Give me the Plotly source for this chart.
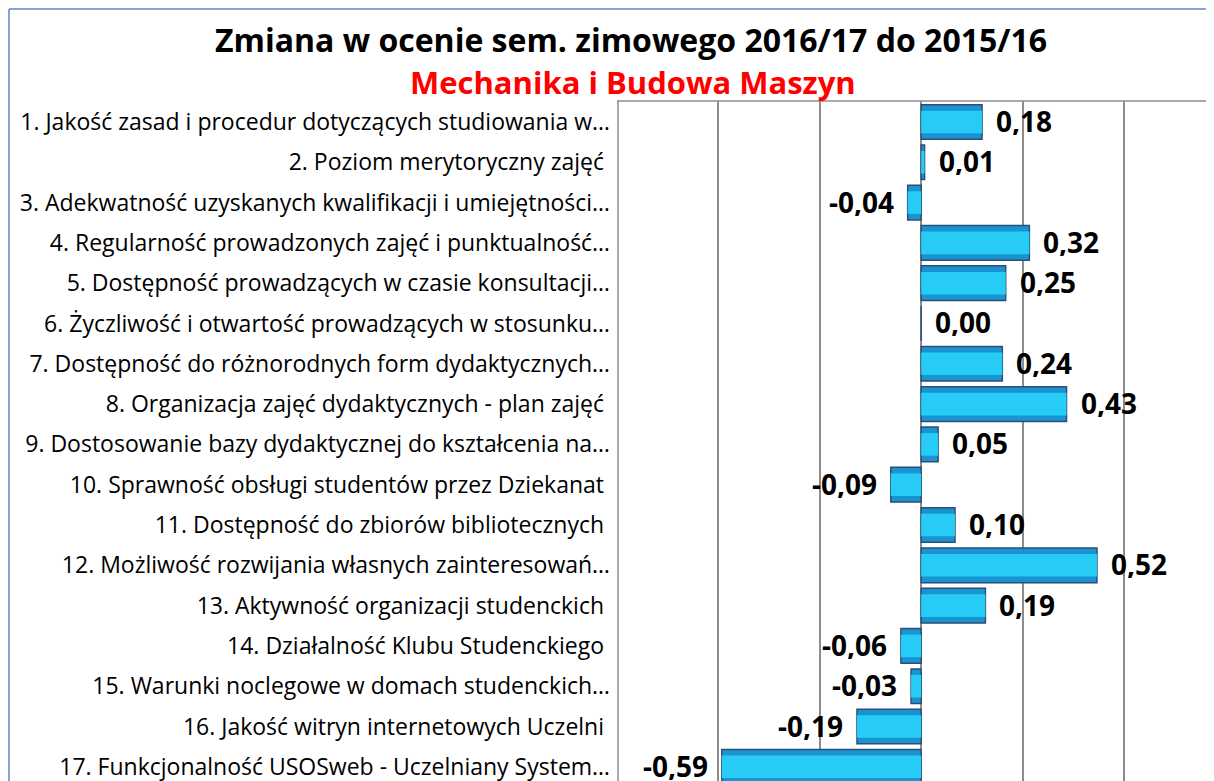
import plotly.graph_objects as go

categories = [
    "1. Jakość zasad i procedur dotyczących studiowania w…",
    "2. Poziom merytoryczny zajęć\u00a0",
    "3. Adekwatność uzyskanych kwalifikacji i umiejętności…",
    "4. Regularność prowadzonych zajęć i punktualność…",
    "5. Dostępność prowadzących w czasie konsultacji…",
    "6. Życzliwość i otwartość prowadzących w stosunku…",
    "7. Dostępność do różnorodnych form dydaktycznych…",
    "8. Organizacja zajęć dydaktycznych - plan zajęć\u00a0",
    "9. Dostosowanie bazy dydaktycznej do kształcenia na…",
    "10. Sprawność obsługi studentów przez Dziekanat\u00a0",
    "11. Dostępność do zbiorów bibliotecznych\u00a0",
    "12. Możliwość rozwijania własnych zainteresowań…",
    "13. Aktywność organizacji studenckich\u00a0",
    "14. Działalność Klubu Studenckiego\u00a0",
    "15. Warunki noclegowe w domach studenckich…",
    "16. Jakość witryn internetowych Uczelni\u00a0",
    "17. Funkcjonalność USOSweb - Uczelniany System…",
]
values = [0.18, 0.01, -0.04, 0.32, 0.25, 0.00, 0.24, 0.43, 0.05,
          -0.09, 0.10, 0.52, 0.19, -0.06, -0.03, -0.19, -0.59]

title_text = "Zmiana w ocenie sem. zimowego 2016/17 do 2015/16"
subtitle_text = "Mechanika i Budowa Maszyn"

labels = [f"{v:.2f}".replace(".", ",") for v in values]

FONT = "Open Sans"
W, H = 1214, 781
L, R, T, B = 609, 0, 93, 0
pw = W - L - R
ph = H - T - B


def px(xp):
    return (xp - L) / pw


def py(yp):
    return (H - B - yp) / ph


fig = go.Figure()
# outer bar (bevel edge)
fig.add_trace(go.Bar(
    y=categories, x=values, orientation="h", width=0.86,
    marker=dict(color="#1A94D0", line=dict(color="#2D4E78", width=1.5)),
    hoverinfo="skip", showlegend=False,
))
# inner bright face
fig.add_trace(go.Bar(
    y=categories, x=values, orientation="h", width=0.56,
    marker=dict(color="#26CCF5", line=dict(width=0)),
    hoverinfo="skip", showlegend=False,
))

annotations = []
for c, v, t in zip(categories, values, labels):
    annotations.append(dict(
        x=v, y=c, xref="x", yref="y", text=t, showarrow=False,
        xanchor="left" if v >= 0 else "right",
        xshift=13 if v >= 0 else -13, yshift=1, borderpad=0, height=28,
        font=dict(family=FONT, size=28, color="#000000", weight="bold"),
    ))

annotations.append(dict(
    text=title_text, x=px(623), y=py(32),
    xref="paper", yref="paper", showarrow=False, xanchor="center", yanchor="middle",
    font=dict(family=FONT, size=32, color="#000000", weight="bold"),
))
annotations.append(dict(
    text=subtitle_text, x=px(625), y=py(74),
    xref="paper", yref="paper", showarrow=False, xanchor="center", yanchor="middle",
    font=dict(family=FONT, size=31, color="#FF0000", weight="bold"),
))

shapes = [
    # plot area top and left border
    dict(type="line", xref="paper", yref="paper", x0=0, x1=1, y0=1, y1=1,
         line=dict(color="#8C8C8C", width=1.5)),
    dict(type="line", xref="paper", yref="paper", x0=px(L + 1), x1=px(L + 1), y0=0, y1=1,
         line=dict(color="#8C8C8C", width=1.5)),
    # chart outer border (left and top)
    dict(type="line", xref="paper", yref="paper", x0=px(1), x1=px(1), y0=py(1), y1=py(H),
         line=dict(color="#5B87C5", width=1.5)),
    dict(type="line", xref="paper", yref="paper", x0=px(1), x1=px(W), y0=py(1), y1=py(1),
         line=dict(color="#5B87C5", width=1.5)),
]

fig.update_layout(
    width=W, height=H,
    margin=dict(l=L, r=R, t=T, b=B, autoexpand=False),
    paper_bgcolor="white", plot_bgcolor="white",
    barmode="overlay",
    annotations=annotations,
    shapes=shapes,
    font=dict(family=FONT),
)
fig.update_xaxes(
    range=[-0.9, -0.9 + pw / 338.0],
    tick0=-0.9, dtick=0.3, showticklabels=False,
    showgrid=True, gridcolor="#8C8C8C", gridwidth=1.5,
    zeroline=True, zerolinecolor="#8C8C8C", zerolinewidth=1.5,
    showline=False, fixedrange=True,
)
fig.update_yaxes(
    categoryorder="array", categoryarray=categories,
    range=[16.55, -0.52], autorange=False,
    showgrid=False, zeroline=False, showline=False,
    ticks="", ticklabelstandoff=6,
    tickfont=dict(family=FONT, size=23, color="#000000"),
    automargin=False, fixedrange=True,
)

fig.write_html("out.html")
